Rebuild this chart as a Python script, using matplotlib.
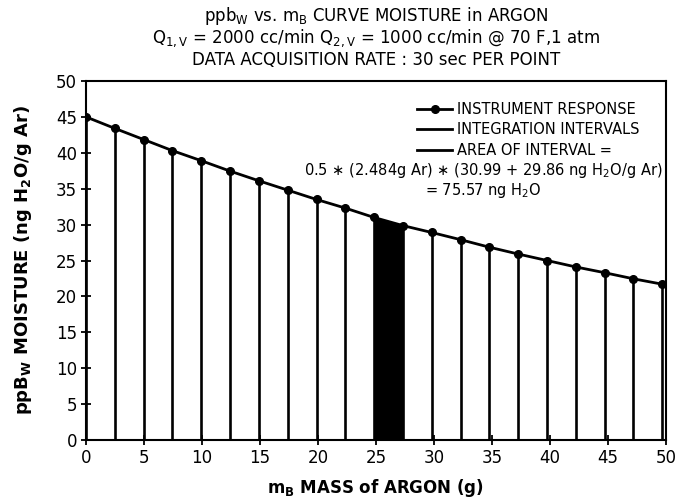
import matplotlib
matplotlib.use("Agg")
import matplotlib.pyplot as plt
from matplotlib.lines import Line2D

plt.rcParams['font.family'] = ['DejaVu Sans']
plt.rcParams['mathtext.default'] = 'regular'

# sample spacing 2.484 g argon per point (30 s at the flow rate)
step = 2.484
mass = [round(i * step, 3) for i in range(21)]
moisture = [45.0, 43.4, 41.85, 40.3, 38.9, 37.45, 36.1, 34.8, 33.5, 32.3,
            30.99, 29.86, 28.9, 27.9, 26.85, 25.9, 25.0, 24.1, 23.3, 22.45, 21.7]
shaded = (10, 11)

xticks = list(range(0, 51, 5))
yticks = list(range(0, 51, 5))

title_lines = [
    "ppb$_W$ vs. m$_B$ CURVE MOISTURE in ARGON",
    "Q$_{1,V}$ = 2000 cc/min Q$_{2,V}$ = 1000 cc/min @ 70 F,1 atm",
    "DATA ACQUISITION RATE : 30 sec PER POINT",
]
legend_labels = ["INSTRUMENT RESPONSE", "INTEGRATION INTERVALS", "AREA OF INTERVAL ="]
area_lines = [
    "0.5 $\\ast$ (2.484g Ar) $\\ast$ (30.99 + 29.86 ng H$_2$O/g Ar)",
    "= 75.57 ng H$_2$O",
]

fig = plt.figure(figsize=(6.75, 4.99), dpi=100)
fig.subplots_adjust(left=86/675, right=666/675, top=1-81/499, bottom=1-440/499)
ax = fig.add_subplot(111)

# integration intervals
ax.vlines(mass, 0, moisture, colors='black', linewidth=1.9)
i0, i1 = shaded
ax.fill_between(mass[i0:i1+1], 0, moisture[i0:i1+1], color='black', linewidth=0)
ax.plot(mass, moisture, color='black', linewidth=2, marker='o', markersize=5.5)

ax.set_xlim(0, 50)
ax.set_ylim(0, 50)
ax.set_xticks(xticks)
ax.set_yticks(yticks)
ax.tick_params(direction='inout', length=7, width=1.3, labelsize=12, pad=3)
for s in ax.spines.values():
    s.set_linewidth(1.5)

ax.set_xlabel("m$_B$ MASS of ARGON (g)", fontsize=12, fontweight='bold', labelpad=7)
ax.set_ylabel("ppB$_W$ MOISTURE (ng H$_2$O/g Ar)", fontsize=13, fontweight='bold', labelpad=16)

for k, line in enumerate(title_lines):
    fig.text(376/675, 1 - (16 + 21.8 * k)/499, line, ha='center', va='center', fontsize=12)

handles = [
    Line2D([], [], color='black', linewidth=2, marker='o', markersize=5.5),
    Line2D([], [], color='black', linewidth=2),
    Line2D([], [], color='black', linewidth=2),
]
ax.legend(handles, legend_labels, loc='upper right', bbox_to_anchor=(0.975, 0.975),
          frameon=False, fontsize=10.5, handlelength=2.4, handletextpad=0.35,
          labelspacing=0.4, borderpad=0.3)

for k, line in enumerate(area_lines):
    ax.text(0.685, 0.75 - 0.054 * k, line, transform=ax.transAxes,
            ha='center', va='center', fontsize=10.5)

fig.savefig("out.png", dpi=100)
